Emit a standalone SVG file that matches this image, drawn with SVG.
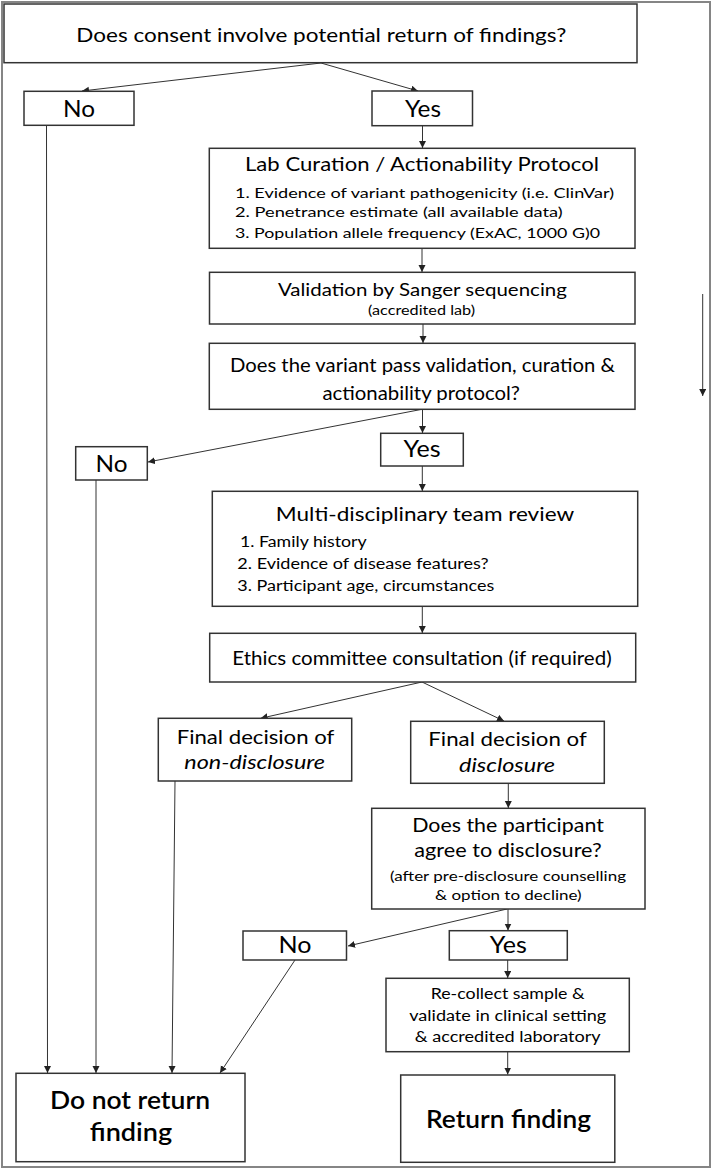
<svg xmlns="http://www.w3.org/2000/svg" width="714" height="1171" viewBox="0 0 714 1171">
<style>
  .box { fill: #fff; stroke: #333; stroke-width: 1.5; }
  .frame { fill: #fff; stroke: #858585; stroke-width: 2; }
  .t { font-family: Lato, "Open Sans", "Liberation Sans", sans-serif; fill: #000; }
  .m { font-size: 20px; text-anchor: middle; }
  .yn { font-size: 24px; text-anchor: middle; }
  .it { font-size: 14px; }
  .s { font-size: 14px; text-anchor: middle; }
  .big { font-size: 25.5px; font-weight: 600; text-anchor: middle; }
  .em { font-style: italic; }
  .conn line { stroke: #333; stroke-width: 1; fill: none; marker-end: url(#ah); }
</style>
<defs>
  <marker id="ah" markerUnits="userSpaceOnUse" markerWidth="8" markerHeight="8" refX="7" refY="3.5" orient="auto">
    <path d="M0,0 L7,3.5 L0,7 Z" fill="#222"/>
  </marker>
</defs>
<rect class="frame" x="2" y="2" width="708" height="1165"/>

<g id="connectors" class="conn">
  <line x1="321" y1="63" x2="82" y2="91"/>
  <line x1="321" y1="63" x2="418" y2="91"/>
  <line x1="46.5" y1="125.5" x2="47.5" y2="1073"/>
  <line x1="422.5" y1="125.7" x2="422.5" y2="148"/>
  <line x1="422" y1="248.3" x2="422" y2="272"/>
  <line x1="423" y1="324" x2="423" y2="343"/>
  <line x1="422.5" y1="409.3" x2="422.5" y2="433"/>
  <line x1="422" y1="409.3" x2="148" y2="462"/>
  <line x1="96" y1="480" x2="96" y2="1073"/>
  <line x1="422.3" y1="466" x2="422.3" y2="491"/>
  <line x1="422.3" y1="606.3" x2="422.3" y2="633"/>
  <line x1="422" y1="682" x2="260.7" y2="718.3"/>
  <line x1="422" y1="682" x2="504" y2="721"/>
  <line x1="175" y1="781" x2="172" y2="1073"/>
  <line x1="508.3" y1="783.3" x2="508.3" y2="808"/>
  <line x1="508" y1="909" x2="508" y2="930.5"/>
  <line x1="507" y1="909" x2="348" y2="946"/>
  <line x1="295" y1="960" x2="220" y2="1073"/>
  <line x1="507.7" y1="960" x2="507.7" y2="978"/>
  <line x1="507.7" y1="1051.7" x2="507.7" y2="1074.5"/>
  <line x1="702.7" y1="294" x2="702.7" y2="396"/>
</g>

<g id="q1">
  <rect class="box" x="4" y="4" width="633" height="58.7"/>
  <text class="t m" x="321.3" y="41.7" textLength="490" lengthAdjust="spacingAndGlyphs">Does consent involve potential return of findings?</text>
</g>
<g id="no1">
  <rect class="box" x="24" y="91.3" width="110" height="34"/>
  <text class="t yn" x="79" y="116.7" textLength="32" lengthAdjust="spacingAndGlyphs">No</text>
</g>
<g id="yes1">
  <rect class="box" x="372" y="91" width="100.5" height="34.7"/>
  <text class="t yn" x="423" y="116.7" textLength="36" lengthAdjust="spacingAndGlyphs">Yes</text>
</g>
<g id="lab">
  <rect class="box" x="209.3" y="148.3" width="425.7" height="100"/>
  <text class="t m" x="422" y="170.7" textLength="354" lengthAdjust="spacingAndGlyphs">Lab Curation / Actionability Protocol</text>
  <text class="t it" x="235" y="198" textLength="379" lengthAdjust="spacingAndGlyphs">1. Evidence of variant pathogenicity (i.e. ClinVar)</text>
  <text class="t it" x="235" y="217.3" textLength="327.7" lengthAdjust="spacingAndGlyphs">2. Penetrance estimate (all available data)</text>
  <text class="t it" x="235" y="237.5" textLength="365" lengthAdjust="spacingAndGlyphs">3. Population allele frequency (ExAC, 1000 G)0</text>
</g>
<g id="sanger">
  <rect class="box" x="209.5" y="272.3" width="425.5" height="51.7"/>
  <text class="t m" x="422.4" y="296" style="font-size:18px" textLength="289" lengthAdjust="spacingAndGlyphs">Validation by Sanger sequencing</text>
  <text class="t" x="421.5" y="315" text-anchor="middle" style="font-size:13px" textLength="107" lengthAdjust="spacingAndGlyphs">(accredited lab)</text>
</g>
<g id="q2">
  <rect class="box" x="209.3" y="343.3" width="425.7" height="66"/>
  <text class="t m" x="422.4" y="371.7" textLength="385" lengthAdjust="spacingAndGlyphs">Does the variant pass validation, curation &amp;</text>
  <text class="t m" x="421.2" y="399.5" textLength="197.6" lengthAdjust="spacingAndGlyphs">actionability protocol?</text>
</g>
<g id="no2">
  <rect class="box" x="75.7" y="446.7" width="71.6" height="33.3"/>
  <text class="t yn" x="111.5" y="471.7" textLength="32" lengthAdjust="spacingAndGlyphs">No</text>
</g>
<g id="yes2">
  <rect class="box" x="380.7" y="433.3" width="82.6" height="32.7"/>
  <text class="t yn" x="422" y="456.7" textLength="37" lengthAdjust="spacingAndGlyphs">Yes</text>
</g>
<g id="mdt">
  <rect class="box" x="212.3" y="491.3" width="425.4" height="115"/>
  <text class="t m" x="425" y="520.7" textLength="298.3" lengthAdjust="spacingAndGlyphs">Multi-disciplinary team review</text>
  <text class="t it" x="240" y="546.7" style="font-size:14.5px" textLength="126.7" lengthAdjust="spacingAndGlyphs">1. Family history</text>
  <text class="t it" x="237.3" y="569.3" style="font-size:14.5px" textLength="251.4" lengthAdjust="spacingAndGlyphs">2. Evidence of disease features?</text>
  <text class="t it" x="237.3" y="590.7" style="font-size:14.5px" textLength="257" lengthAdjust="spacingAndGlyphs">3. Participant age, circumstances</text>
</g>
<g id="ethics">
  <rect class="box" x="209.7" y="633.3" width="426" height="48.7"/>
  <text class="t m" x="422" y="664.5" textLength="379.4" lengthAdjust="spacingAndGlyphs">Ethics committee consultation (if required)</text>
</g>
<g id="nondisclosure">
  <rect class="box" x="158.3" y="718.3" width="193.4" height="62.7"/>
  <text class="t m" x="255.5" y="744" textLength="157.6" lengthAdjust="spacingAndGlyphs">Final decision of</text>
  <text class="t m em" x="254.7" y="769.3" textLength="140.7" lengthAdjust="spacingAndGlyphs">non-disclosure</text>
</g>
<g id="disclosure">
  <rect class="box" x="410.7" y="721.3" width="193.6" height="62"/>
  <text class="t m" x="507.5" y="746" textLength="158.4" lengthAdjust="spacingAndGlyphs">Final decision of</text>
  <text class="t m em" x="507" y="771.7" textLength="96" lengthAdjust="spacingAndGlyphs">disclosure</text>
</g>
<g id="q3">
  <rect class="box" x="371.7" y="808.3" width="273.3" height="100.7"/>
  <text class="t m" x="508" y="831.7" textLength="191.7" lengthAdjust="spacingAndGlyphs">Does the participant</text>
  <text class="t m" x="508" y="856.7" textLength="187.4" lengthAdjust="spacingAndGlyphs">agree to disclosure?</text>
  <text class="t s" x="508" y="880.7" textLength="236" lengthAdjust="spacingAndGlyphs">(after pre-disclosure counselling</text>
  <text class="t s" x="508.3" y="900" textLength="146.7" lengthAdjust="spacingAndGlyphs">&amp; option to decline)</text>
</g>
<g id="no3">
  <rect class="box" x="243" y="931" width="103.5" height="29"/>
  <text class="t yn" x="295" y="953.3" textLength="33" lengthAdjust="spacingAndGlyphs">No</text>
</g>
<g id="yes3">
  <rect class="box" x="449.3" y="930.7" width="118" height="29.3"/>
  <text class="t yn" x="508.3" y="953.3" textLength="37" lengthAdjust="spacingAndGlyphs">Yes</text>
</g>
<g id="recollect">
  <rect class="box" x="386" y="978.3" width="243.3" height="73.4"/>
  <text class="t s" x="507.7" y="999.3" style="font-size:15.5px" textLength="154" lengthAdjust="spacingAndGlyphs">Re-collect sample &amp;</text>
  <text class="t s" x="507.7" y="1020.7" style="font-size:15.5px" textLength="197" lengthAdjust="spacingAndGlyphs">validate in clinical setting</text>
  <text class="t s" x="507.7" y="1041.7" style="font-size:15.5px" textLength="186" lengthAdjust="spacingAndGlyphs">&amp; accredited laboratory</text>
</g>
<g id="donotreturn">
  <rect class="box" x="16" y="1073.3" width="229" height="88.4"/>
  <text class="t big" x="130" y="1109.3" textLength="160" lengthAdjust="spacingAndGlyphs">Do not return</text>
  <text class="t big" x="131" y="1140.7" textLength="82.4" lengthAdjust="spacingAndGlyphs">finding</text>
</g>
<g id="return">
  <rect class="box" x="400.7" y="1075" width="214.1" height="87.3"/>
  <text class="t big" x="508.5" y="1128.3" textLength="165" lengthAdjust="spacingAndGlyphs">Return finding</text>
</g>
</svg>
